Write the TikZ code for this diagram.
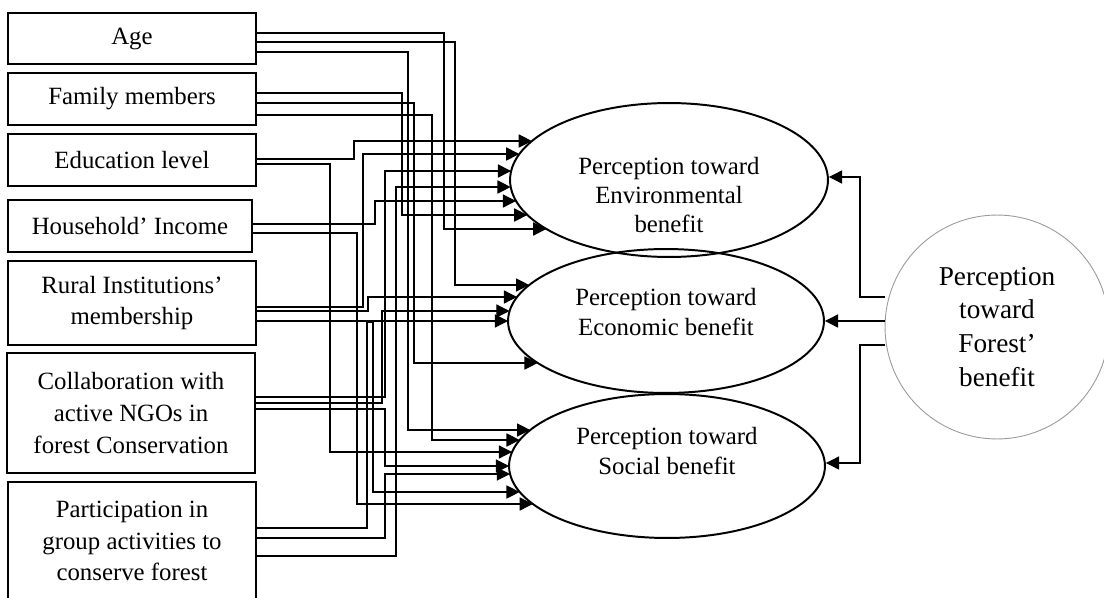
\documentclass[tikz,border=0pt]{standalone}
\usepackage{fontspec}
\setmainfont{Liberation Serif}
\usetikzlibrary{shapes.geometric,arrows.meta}

\begin{document}
\begin{tikzpicture}[x=0.016cm, y=-0.016cm,
    txt/.style={align=center, inner sep=0pt, font=\fontsize{11.3}{14.5}\selectfont},
    box/.style={txt, draw, line width=0.8pt, minimum width=3.97cm},
    oval/.style={draw, ellipse, line width=0.9pt, inner sep=0pt},
    ovaltxt/.style={txt, font=\fontsize{11.3}{13.3}\selectfont},
    arr/.style={line width=0.5pt, -{Triangle[length=6pt, width=6pt]}}]
        \useasboundingbox (0,0) rectangle (1104,598);
        \node[box, minimum height=0.816cm] (1) at (132, 38.5) {Age};
        \node[box, minimum height=0.832cm] (2) at (132, 99) {Family members};
        \node[box, minimum height=0.832cm] (3) at (132, 160) {Education level};
        \node[box, minimum height=0.832cm, minimum width=3.9cm] (4) at (130, 226) {Household’ Income};
        \node[box, minimum height=1.344cm] (5) at (132, 303) {Rural Institutions’\\membership};
        \node[box, minimum height=1.92cm] (6) at (131, 413) {Collaboration with\\active NGOs in\\forest Conservation};
        \node[box, minimum height=1.888cm] (7) at (132, 541) {Participation in\\group activities to\\conserve forest};
        \node[oval, minimum width=5.088cm, minimum height=2.464cm] (8) at (669, 180) {};
        \node[oval, minimum width=5.056cm, minimum height=2.304cm] (9) at (666, 321) {};
        \node[oval, minimum width=5.056cm, minimum height=2.304cm] (10) at (667, 466) {};
        \node[ovaltxt] (8t) at (669, 195) {Perception toward\\Environmental\\benefit};
        \node[ovaltxt] (9t) at (666, 312) {Perception toward\\Economic benefit};
        \node[ovaltxt] (10t) at (667, 451) {Perception toward\\Social benefit};
        \node[circle, draw=gray!80, line width=0.4pt, minimum size=3.584cm, inner sep=0pt, align=center, font=\fontsize{12.4}{15.4}\selectfont] (11) at (997, 327) {Perception\\toward\\Forest’\\benefit};
        \foreach \n/\y in {1/141, 2/154, 3/171, 4/187, 5/201, 6/215, 7/229}
            \coordinate (e\n) at ({669-159*sqrt(1-((\y-180)/77)*((\y-180)/77))}, \y);
        \foreach \n/\y in {1/285, 2/297, 3/311, 4/321, 5/363}
            \coordinate (c\n) at ({666-158*sqrt(1-((\y-321)/72)*((\y-321)/72))}, \y);
        \foreach \n/\y in {1/430, 2/440, 3/452, 4/466, 5/474, 6/492, 7/504}
            \coordinate (s\n) at ({667-158*sqrt(1-((\y-466)/72)*((\y-466)/72))}, \y);
        \draw[arr] (1.east |- 0,33) -- (444,33) |- (e7);
        \draw[arr] (1.east |- 0,42) -- (455,42) |- (c1);
        \draw[arr] (1.east |- 0,52) -- (408,52) |- (s1);
        \draw[arr] (2.east |- 0,93) -- (402,93) |- (e6);
        \draw[arr] (2.east |- 0,103) -- (414,103) |- (c5);
        \draw[arr] (2.east |- 0,115) -- (432,115) |- (s2);
        \draw[arr] (3.east |- 0,159) -- (354,159) |- (e1);
        \draw[arr] (3.east |- 0,164) -- (330,164) |- (s3);
        \draw[arr] (4.east |- 0,224) -- (375,224) |- (e5);
        \draw[arr] (4.east |- 0,233) -- (357,233) |- (s7);
        \draw[arr] (5.east |- 0,307) -- (363,307) |- (e2);
        \draw[arr] (5.east |- 0,311) -- (368,311) |- (c2);
        \draw[arr] (5.east |- 0,321) -- (c4);
        \draw[arr] (6.east |- 0,397) -- (385,397) |- (e3);
        \draw[arr] (6.east |- 0,403) -- (382,403) |- (c3);
        \draw[arr] (6.east |- 0,409) -- (385,409) |- (s4);
        \draw[arr] (7.east |- 0,528) -- (367,528) |- (373,322) |- (s6);
        \draw[arr] (7.east |- 0,538) -- (385,538) |- (s5);
        \draw[arr] (7.east |- 0,556) -- (396,556) |- (e4);
        \draw[arr] (11.west |- 0,297) -- (860,297) |- (8.east |- 0,177);
        \draw[arr] (11.west |- 0,321) -- (9.east |- 0,321);
        \draw[arr] (11.west |- 0,345) -- (860,345) |- (10.east |- 0,463);
    \end{tikzpicture}
\end{document}
